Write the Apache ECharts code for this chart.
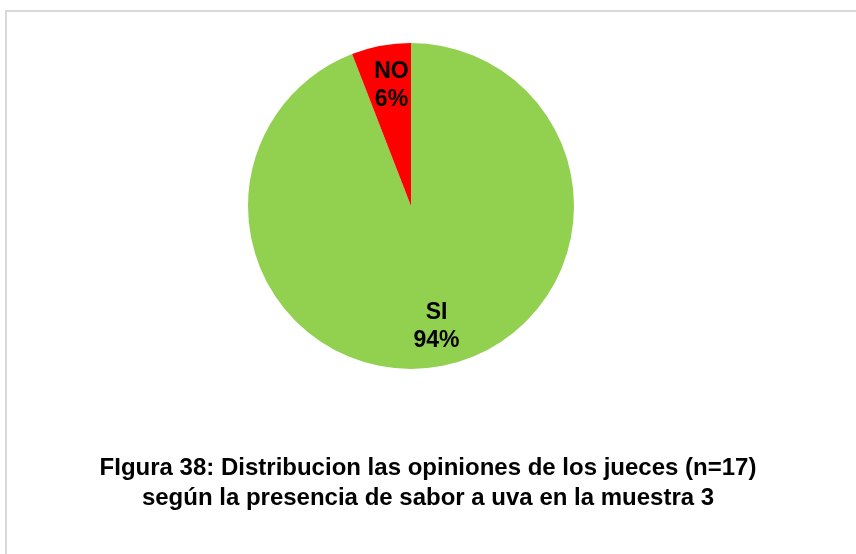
<!DOCTYPE html>
<html>
<head>
<meta charset="utf-8">
<script src="https://cdn.jsdelivr.net/npm/echarts@6/dist/echarts.min.js"></script>
<style>
  html, body { margin: 0; padding: 0; background: #fff; }
  #main { width: 856px; height: 554px; }
</style>
</head>
<body>
<div id="main"></div>
<script>
// respuestas de los jueces (n=17)
var categorias = ['SI', 'NO'];
var valores = [16, 1];
var colores = ['#92D050', '#FF0000'];
var titulo = 'FIgura 38: Distribucion las opiniones de los jueces (n=17)\nsegún la presencia de sabor a uva en la muestra 3';

var datos = [];
for (var i = 0; i < categorias.length; i++) {
  datos.push({ name: categorias[i], value: valores[i], itemStyle: { color: colores[i] } });
}

var chart = echarts.init(document.getElementById('main'), null, { renderer: 'canvas' });

var option = {
  backgroundColor: '#ffffff',
  animation: false,
  title: {
    text: titulo,
    left: 'center',
    top: 448,
    textStyle: {
      fontFamily: 'Liberation Sans, Arial, sans-serif',
      fontWeight: 'bold',
      fontSize: 24,
      lineHeight: 30,
      color: '#000'
    }
  },
  graphic: [{
    type: 'rect',
    shape: { x: 6, y: 11, width: 900, height: 600 },
    style: { fill: 'none', stroke: '#d9d9d9', lineWidth: 2 },
    silent: true
  }],
  series: [
    {
      // tarta visible
      type: 'pie',
      center: [411, 206],
      radius: [0, 163],
      startAngle: 90,
      clockwise: true,
      silent: true,
      label: { show: false },
      labelLine: { show: false },
      data: datos
    },
    {
      // anillo invisible solo para colocar las etiquetas
      type: 'pie',
      center: [411, 206],
      radius: [76, 163],
      startAngle: 90,
      clockwise: true,
      silent: true,
      itemStyle: { color: 'transparent' },
      label: {
        show: true,
        position: 'inside',
        offset: [3, 0],
        formatter: function (p) {
          return p.name + '\n' + Math.round(p.percent) + '%';
        },
        fontFamily: 'Liberation Sans, Arial, sans-serif',
        fontWeight: 'bold',
        fontSize: 23,
        lineHeight: 28,
        color: '#000'
      },
      labelLine: { show: false },
      data: categorias.map(function (c, i) {
        return { name: c, value: valores[i] };
      })
    }
  ]
};

chart.setOption(option);
</script>
</body>
</html>
